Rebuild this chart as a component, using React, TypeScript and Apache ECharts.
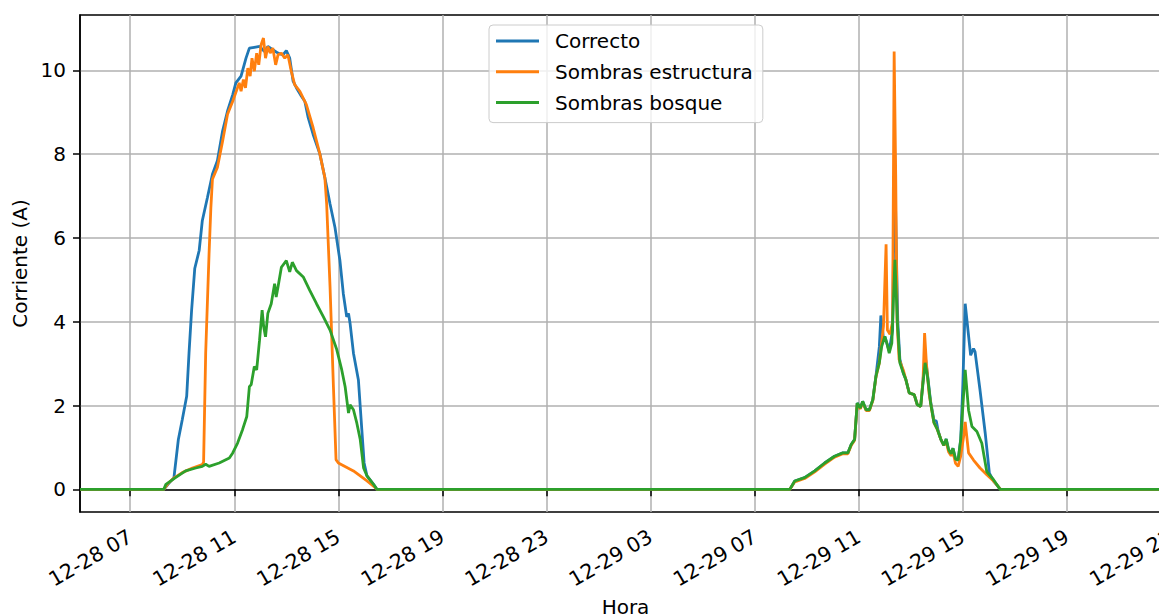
import React, { useEffect, useRef } from "react";
import * as echarts from "echarts";

// Hours since 12-28 00:00
const xTickHours = [7, 11, 15, 19, 23, 27, 31, 35, 39, 43, 47];
const xTickLabels = ["12-28 07", "12-28 11", "12-28 15", "12-28 19", "12-28 23", "12-29 03", "12-29 07", "12-29 11", "12-29 15", "12-29 19", "12-29 23"];
const yTicks = [0, 2, 4, 6, 8, 10];

const seriesNames = ["Correcto", "Sombras estructura", "Sombras bosque"];
const seriesColors = ["#1f77b4", "#ff7f0e", "#2ca02c"];

const correctoHours = [5.07, 8.29, 8.45, 8.68, 8.85, 9.0, 9.17, 9.26, 9.36, 9.48, 9.65, 9.77, 9.97, 10.16, 10.35, 10.55, 10.74, 10.94, 11.06, 11.26, 11.45, 11.58, 11.77, 11.97, 12.16, 12.29, 12.48, 12.68, 12.87, 13.0, 13.13, 13.26, 13.39, 13.58, 13.71, 13.84, 14.03, 14.29, 14.48, 14.68, 14.87, 15.06, 15.19, 15.32, 15.39, 15.45, 15.58, 15.77, 15.9, 15.99, 16.1, 16.35, 16.48,
  32.35, 32.54, 32.92, 33.31, 33.69, 34.07, 34.39, 34.58, 34.71, 34.84, 34.94, 35.06, 35.15, 35.28, 35.41, 35.54, 35.66, 35.79, 35.85, 35.95, 36.0, 36.17, 36.3, 36.38, 36.44, 36.5, 36.58, 36.71, 36.81, 36.94, 37.13, 37.25, 37.38, 37.47, 37.55, 37.64, 37.76, 37.89, 37.98, 38.05, 38.15, 38.27, 38.36, 38.45, 38.55, 38.62, 38.72, 38.82, 38.92, 39.0, 39.09, 39.3, 39.41, 39.47, 39.66, 39.86, 40.02, 40.18, 40.45, 47];
const correctoValues = [0, 0, 0.12, 0.28, 1.19, 1.66, 2.22, 3.25, 4.28, 5.27, 5.7, 6.41, 6.97, 7.52, 7.84, 8.55, 9.03, 9.42, 9.7, 9.86, 10.29, 10.53, 10.55, 10.57, 10.45, 10.57, 10.49, 10.41, 10.37, 10.47, 10.29, 9.74, 9.58, 9.38, 9.26, 8.87, 8.47, 8.0, 7.44, 6.81, 6.25, 5.46, 4.67, 4.12, 4.2, 3.96, 3.25, 2.61, 1.43, 0.63, 0.32, 0.12, 0,
  0, 0.2, 0.28, 0.44, 0.63, 0.79, 0.87, 0.87, 1.07, 1.19, 2.06, 1.94, 2.1, 1.9, 1.9, 2.14, 2.7, 3.4, 4.15, 3.6, 3.65, 3.3, 3.8, 8.0, 5.8, 4.0, 3.1, 2.78, 2.62, 2.3, 2.26, 2.02, 1.98, 2.6, 3.2, 2.75, 2.1, 1.65, 1.63, 1.4, 1.2, 1.05, 1.2, 0.95, 0.85, 0.98, 0.72, 0.7, 1.2, 2.5, 4.43, 3.2, 3.36, 3.28, 2.37, 1.34, 0.39, 0.2, 0, 0];

const estructuraHours = [5.07, 8.29, 8.45, 8.7, 9.0, 9.39, 9.77, 9.82, 9.9, 10.03, 10.1, 10.16, 10.35, 10.55, 10.74, 10.94, 11.19, 11.26, 11.35, 11.43, 11.52, 11.61, 11.68, 11.77, 11.86, 11.94, 12.03, 12.12, 12.2, 12.29, 12.38, 12.48, 12.59, 12.68, 12.81, 12.94, 13.06, 13.19, 13.32, 13.52, 13.77, 14.03, 14.29, 14.48, 14.55, 14.68, 14.81, 14.91, 15.0, 15.58, 16.1, 16.42, 16.48,
  32.35, 32.54, 32.92, 33.31, 33.69, 34.07, 34.39, 34.58, 34.71, 34.84, 34.94, 35.06, 35.15, 35.28, 35.41, 35.54, 35.66, 35.79, 35.88, 35.95, 36.05, 36.1, 36.2, 36.3, 36.36, 36.42, 36.47, 36.55, 36.71, 36.81, 36.94, 37.13, 37.25, 37.38, 37.47, 37.53, 37.6, 37.7, 37.76, 37.89, 38.02, 38.15, 38.27, 38.36, 38.45, 38.55, 38.62, 38.72, 38.82, 38.92, 39.04, 39.09, 39.22, 39.41, 39.66, 39.92, 40.18, 40.45, 47];
const estructuraValues = [0, 0, 0.14, 0.28, 0.4, 0.51, 0.59, 0.65, 3.25, 5.62, 6.73, 7.4, 7.68, 8.31, 8.95, 9.26, 9.7, 9.5, 9.78, 9.58, 10.05, 9.86, 10.29, 9.98, 10.41, 10.13, 10.61, 10.77, 10.29, 10.57, 10.41, 10.53, 10.13, 10.37, 10.41, 10.29, 10.37, 9.98, 9.66, 9.5, 9.18, 8.63, 8.0, 7.44, 6.81, 4.83, 2.45, 0.71, 0.63, 0.44, 0.2, 0.04, 0,
  0, 0.18, 0.26, 0.42, 0.6, 0.77, 0.85, 0.85, 1.05, 1.17, 2.04, 1.92, 2.08, 1.88, 1.88, 2.12, 2.68, 3.02, 3.5, 3.9, 5.85, 3.8, 3.7, 4.0, 10.45, 7.5, 4.05, 3.1, 2.85, 2.62, 2.3, 2.26, 2.02, 1.98, 2.6, 3.73, 3.0, 2.3, 2.06, 1.59, 1.43, 1.2, 1.05, 1.15, 0.9, 0.8, 0.9, 0.62, 0.55, 0.8, 1.3, 1.61, 0.87, 0.7, 0.51, 0.35, 0.2, 0, 0];

const bosqueHours = [5.07, 8.29, 8.37, 8.74, 9.13, 9.52, 9.77, 9.9, 10.03, 10.42, 10.81, 10.94, 11.13, 11.32, 11.48, 11.58, 11.65, 11.77, 11.86, 11.97, 12.07, 12.13, 12.2, 12.29, 12.42, 12.55, 12.61, 12.68, 12.81, 13.0, 13.13, 13.23, 13.39, 13.65, 13.9, 14.16, 14.42, 14.68, 14.94, 15.13, 15.26, 15.39, 15.45, 15.58, 15.71, 15.84, 15.97, 16.1, 16.35, 16.48,
  32.35, 32.54, 32.92, 33.31, 33.69, 34.07, 34.39, 34.58, 34.71, 34.84, 34.94, 35.06, 35.15, 35.28, 35.41, 35.54, 35.66, 35.79, 35.88, 36.0, 36.08, 36.17, 36.27, 36.39, 36.49, 36.58, 36.71, 36.81, 36.94, 37.13, 37.25, 37.38, 37.47, 37.55, 37.64, 37.76, 37.89, 38.02, 38.15, 38.27, 38.36, 38.45, 38.55, 38.62, 38.72, 38.82, 38.92, 39.09, 39.22, 39.35, 39.54, 39.73, 39.92, 40.18, 40.43, 47];
const bosqueValues = [0, 0, 0.12, 0.28, 0.44, 0.51, 0.55, 0.6, 0.55, 0.63, 0.75, 0.87, 1.11, 1.43, 1.74, 2.45, 2.5, 2.93, 2.85, 3.56, 4.28, 3.88, 3.64, 4.2, 4.43, 4.91, 4.59, 4.83, 5.3, 5.46, 5.19, 5.42, 5.22, 5.07, 4.75, 4.43, 4.12, 3.8, 3.33, 2.85, 2.45, 1.82, 2.02, 1.9, 1.58, 1.19, 0.51, 0.32, 0.12, 0,
  0, 0.2, 0.28, 0.44, 0.63, 0.79, 0.87, 0.87, 1.07, 1.19, 2.06, 1.94, 2.1, 1.9, 1.9, 2.14, 2.7, 3.02, 3.41, 3.65, 3.49, 3.25, 3.49, 5.48, 3.89, 3.02, 2.78, 2.62, 2.3, 2.26, 2.02, 1.98, 2.54, 3.02, 2.7, 2.06, 1.59, 1.43, 1.2, 1.05, 1.2, 0.95, 0.85, 0.98, 0.72, 0.7, 1.2, 2.85, 1.89, 1.5, 1.38, 1.1, 0.42, 0.23, 0, 0];

const xMin = 5.07;
const xMax = 47;
const yMin = -0.54;
const yMax = 11.32;

const zip = (h: number[], v: number[]) => h.map((x, i) => [x, v[i]]);

export default function App() {
  const ref = useRef<HTMLDivElement>(null);
  useEffect(() => {
    if (!ref.current) return;
    const chart = echarts.init(ref.current, null, { renderer: "svg" });
    const font = "DejaVu Sans";
    const allHours = [correctoHours, estructuraHours, bosqueHours];
    const allValues = [correctoValues, estructuraValues, bosqueValues];
    chart.setOption({
      animation: false,
      backgroundColor: "#ffffff",
      textStyle: { fontFamily: font },
      grid: {
        left: 80,
        top: 15,
        right: 29,
        bottom: 104,
        containLabel: false,
        outerBoundsMode: "none",
        show: true,
        borderColor: "#000000",
        borderWidth: 1.5,
        backgroundColor: "transparent",
      },
      legend: {
        orient: "vertical",
        left: 489,
        top: 25,
        icon: "rect",
        itemWidth: 43,
        itemHeight: 3,
        itemGap: 6.8,
        padding: [4, 10, 8, 7],
        backgroundColor: "rgba(255,255,255,0.8)",
        borderColor: "#cccccc",
        borderWidth: 1,
        borderRadius: 4,
        textStyle: {
          fontFamily: font,
          fontSize: 20,
          color: "#000000",
          lineHeight: 24,
          padding: [0, 0, 0, 11],
        },
        data: seriesNames,
      },
      xAxis: {
        type: "value",
        min: xMin,
        max: xMax,
        name: "Hora",
        nameLocation: "middle",
        nameGap: 83,
        nameTextStyle: { fontFamily: font, fontSize: 20, color: "#000000" },
        axisLine: { show: true, lineStyle: { color: "#000000", width: 1.5 } },
        axisTick: {
          show: true,
          customValues: xTickHours,
          length: 7,
          lineStyle: { color: "#000000", width: 1.5 },
        },
        axisLabel: {
          customValues: xTickHours,
          rotate: 30,
          margin: 23,
          fontFamily: font,
          fontSize: 20.5,
          color: "#000000",
          formatter: (v: number) => {
            const i = xTickHours.findIndex((h) => Math.abs(h - v) < 1e-6);
            return i >= 0 ? xTickLabels[i] : "";
          },
        },
        splitLine: { show: true, lineStyle: { color: "#b0b0b0", width: 1.5 } },
      },
      yAxis: {
        type: "value",
        min: yMin,
        max: yMax,
        name: "Corriente (A)",
        nameLocation: "middle",
        nameGap: 48,
        nameTextStyle: { fontFamily: font, fontSize: 20, color: "#000000" },
        axisLine: { show: true, lineStyle: { color: "#000000", width: 1.5 } },
        axisTick: {
          show: true,
          customValues: yTicks,
          length: 7,
          lineStyle: { color: "#000000", width: 1.5 },
        },
        axisLabel: {
          customValues: yTicks,
          margin: 14,
          fontFamily: font,
          fontSize: 20,
          color: "#000000",
          formatter: (v: number) => String(Math.round(v)),
        },
        splitLine: { show: true, lineStyle: { color: "#b0b0b0", width: 1.5 } },
      },
      series: seriesNames.map((name, i) => ({
        name,
        type: "line",
        data: zip(allHours[i], allValues[i]),
        showSymbol: false,
        symbol: "none",
        clip: true,
        color: seriesColors[i],
        lineStyle: { color: seriesColors[i], width: 2.8 },
      })),
    });
    return () => chart.dispose();
  }, []);
  return (
    <div
      ref={ref}
      style={{ position: "fixed", left: 0, top: 0, width: 1200, height: 616 }}
    />
  );
}
